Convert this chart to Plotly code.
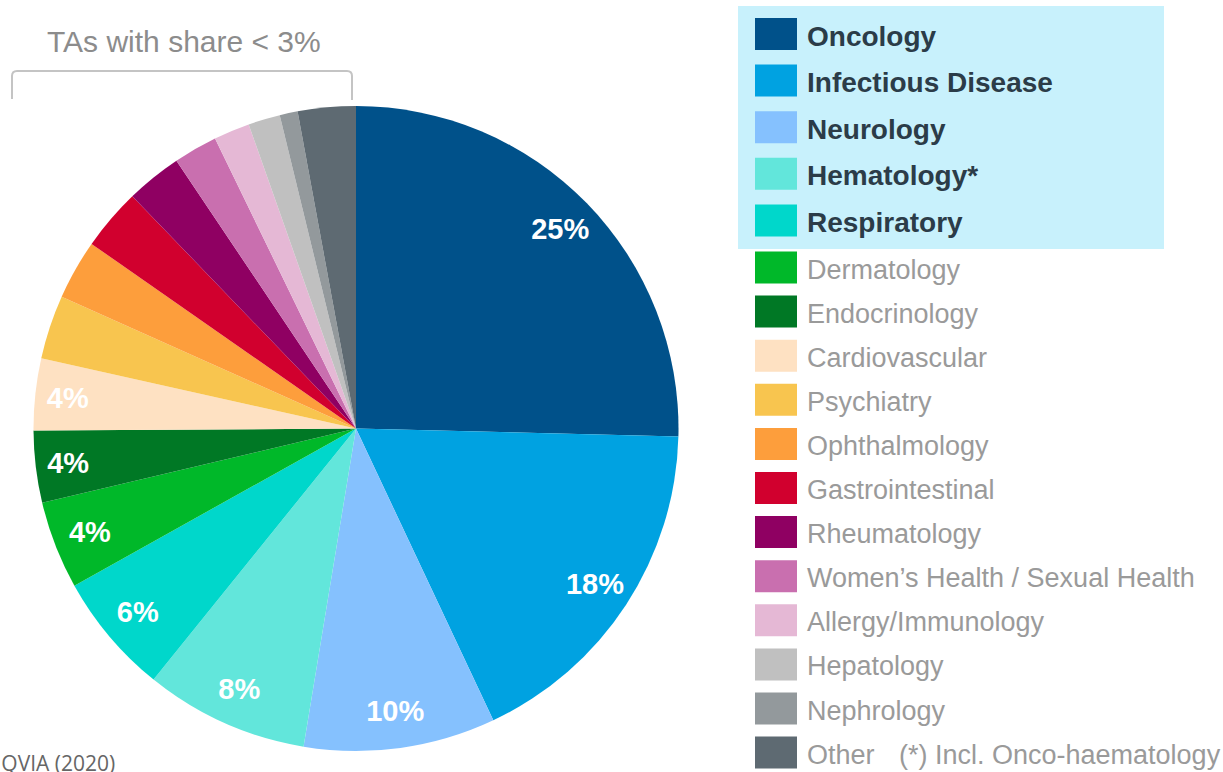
import plotly.graph_objects as go

W, H = 1223, 772

categories = ["Oncology", "Infectious Disease", "Neurology", "Hematology*", "Respiratory",
              "Dermatology", "Endocrinology", "Cardiovascular", "Psychiatry", "Ophthalmology",
              "Gastrointestinal", "Rheumatology", "Women\u2019s Health / Sexual Health",
              "Allergy/Immunology", "Hepatology", "Nephrology", "Other"]
shares = [25.4, 17.6, 9.6, 8.2, 6.1, 4.4, 3.6, 3.6, 3.2, 3.0, 3.1, 2.8, 2.2, 1.8, 1.6, 0.9, 2.9]
colors = ["#00518a", "#00a2e1", "#85c1fe", "#62e6db", "#00d7cb", "#00b829", "#007825",
          "#fee1c2", "#f8c54f", "#fd9e3c", "#d1002e", "#8f0062", "#c96faf", "#e5b8d5",
          "#c0c0c0", "#93999c", "#5e6a72"]
labelled = [True] * 8 + [False] * 9
highlighted = [True] * 5 + [False] * 12

# pie geometry (paper domain)
cx, cy, r = 356, 428.5, 322.5
dom_x = [(cx - r) / W, (cx + r) / W]
dom_y = [1 - (cy + r) / H, 1 - (cy - r) / H]

fig = go.Figure()
fig.add_trace(go.Pie(
    labels=categories, values=shares, sort=False, direction="clockwise", rotation=0,
    marker=dict(colors=colors, line=dict(width=0)),
    textinfo="none", showlegend=False, hoverinfo="label+percent",
    domain=dict(x=dom_x, y=dom_y),
))
# transparent ring carrying the percentage labels near the rim
fig.add_trace(go.Pie(
    labels=categories, values=shares, sort=False, direction="clockwise", rotation=0,
    hole=0.77,
    marker=dict(colors=["rgba(0,0,0,0)"] * len(shares), line=dict(width=0)),
    texttemplate=["%{percent:.0%}" if s else "" for s in labelled],
    textposition="inside", insidetextorientation="horizontal",
    textfont=dict(color="white", size=29, family="Liberation Sans", weight="bold"),
    showlegend=False, hoverinfo="skip",
    domain=dict(x=dom_x, y=dom_y),
))

shapes = []
annotations = []

# highlight box for the top-5
shapes.append(dict(type="rect", xref="x", yref="y", x0=738, x1=1164, y0=6, y1=249,
                   fillcolor="#c8f1fc", line=dict(width=0), layer="below"))

# custom legend
row_y = []
for i in range(len(categories)):
    if i < 5:
        row_y.append(34 + i * 46.6)
    else:
        row_y.append(267.5 + (i - 5) * 44.1)

for i, (name, col) in enumerate(zip(categories, colors)):
    y = row_y[i]
    shapes.append(dict(type="rect", xref="x", yref="y", x0=755, x1=797, y0=y - 16, y1=y + 16,
                       fillcolor=col, line=dict(width=0)))
    if highlighted[i]:
        font = dict(family="Liberation Sans", size=28, color="#2b3c48", weight="bold")
    else:
        font = dict(family="Liberation Sans", size=27, color="#9a9a9a")
    annotations.append(dict(xref="x", yref="y", x=805, y=y + 2, text=name, showarrow=False,
                            xanchor="left", yanchor="middle", font=font))

annotations.append(dict(xref="x", yref="y", x=897, y=row_y[-1] + 2,
                        text="(*) Incl. Onco-haematology", showarrow=False,
                        xanchor="left", yanchor="middle",
                        font=dict(family="Liberation Sans", size=27, color="#9a9a9a")))

# bracket over small TAs
shapes.append(dict(type="path", xref="x", yref="y",
                   path="M 12 99 L 12 76 Q 12 71 17 71 L 347 71 Q 352 71 352 76 L 352 100",
                   line=dict(color="#c4c4c4", width=2)))
annotations.append(dict(xref="x", yref="y", x=184, y=41, text="TAs with share < 3%",
                        showarrow=False, xanchor="center", yanchor="middle",
                        font=dict(family="Liberation Sans", size=30, color="#8c8c8c")))

# source (cut off at the page edge)
annotations.append(dict(xref="x", yref="y", x=117, y=747, text="Source: IQVIA (2020)",
                        showarrow=False, xanchor="right", yanchor="top",
                        font=dict(family="Open Sans", size=21, color="#666666")))

fig.update_layout(
    width=W, height=H, margin=dict(l=0, r=0, t=0, b=0),
    paper_bgcolor="white", plot_bgcolor="rgba(0,0,0,0)",
    xaxis=dict(range=[0, W], visible=False, fixedrange=True),
    yaxis=dict(range=[H, 0], visible=False, fixedrange=True),
    shapes=shapes, annotations=annotations, showlegend=False,
)

fig.write_html("out.html", config={"displayModeBar": False},
               post_script="document.body.style.margin='0';document.body.style.overflow='hidden';")
